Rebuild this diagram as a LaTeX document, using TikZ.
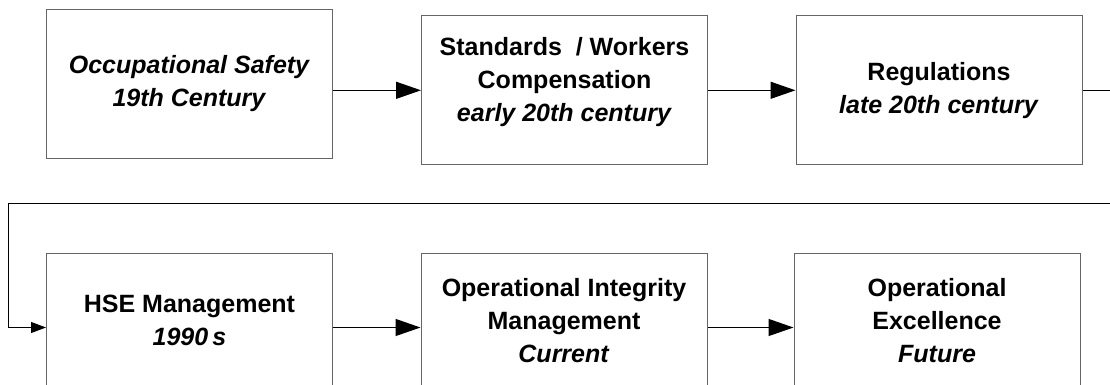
\documentclass[tikz,border=0pt]{standalone}
\usepackage{fontspec}
\setmainfont{Liberation Sans}
\usetikzlibrary{arrows.meta}

\begin{document}
\begin{tikzpicture}[x=1pt, y=-1pt,
  box/.style={draw=black!60, line width=1pt, minimum width=286pt, minimum height=149pt,
    inner sep=0pt, align=center, font=\fontsize{25}{33}\selectfont\bfseries},
  arr/.style={line width=1.3pt, -{Triangle[length=25pt, width=17pt]}},
  link/.style={line width=0.9pt, -{Triangle[length=15pt, width=11pt]}}]
\useasboundingbox (0,0) rectangle (1110,385);
\clip (0,0) rectangle (1110,385);
\node[box] (occ) at (189.5,84) {\textit{Occupational Safety}\\ \textit{19th Century}};
\node[box, text depth=21pt] (std) at (564.5,90.3) {Standards\ \ / Workers\\ Compensation\\ \textit{early 20th century}};
\node[box] (reg) at (939,90.3) {Regulations\\ \textit{late 20th century}};
\node[box, text depth=15pt] (hse) at (189.5,327.5) {HSE Management\\ \textit{1990\,s}};
\node[box, text depth=15pt] (oim) at (564,327.5) {Operational Integrity\\ Management\\ \textit{Current}};
\node[box, text depth=15pt] (opx) at (937,327.5) {Operational\\ Excellence\\ \textit{Future}};
\coordinate (turn) at (8.5,203);
\draw[arr] (occ.east |- std.west) -- (std.west);
\draw[arr] (std) -- (reg);
\draw[link] (reg.east) -- ++(40,0) |- (turn) |- (hse.west);
\draw[arr] (hse) -- (oim);
\draw[arr] (oim) -- (opx);
\end{tikzpicture}
\end{document}
